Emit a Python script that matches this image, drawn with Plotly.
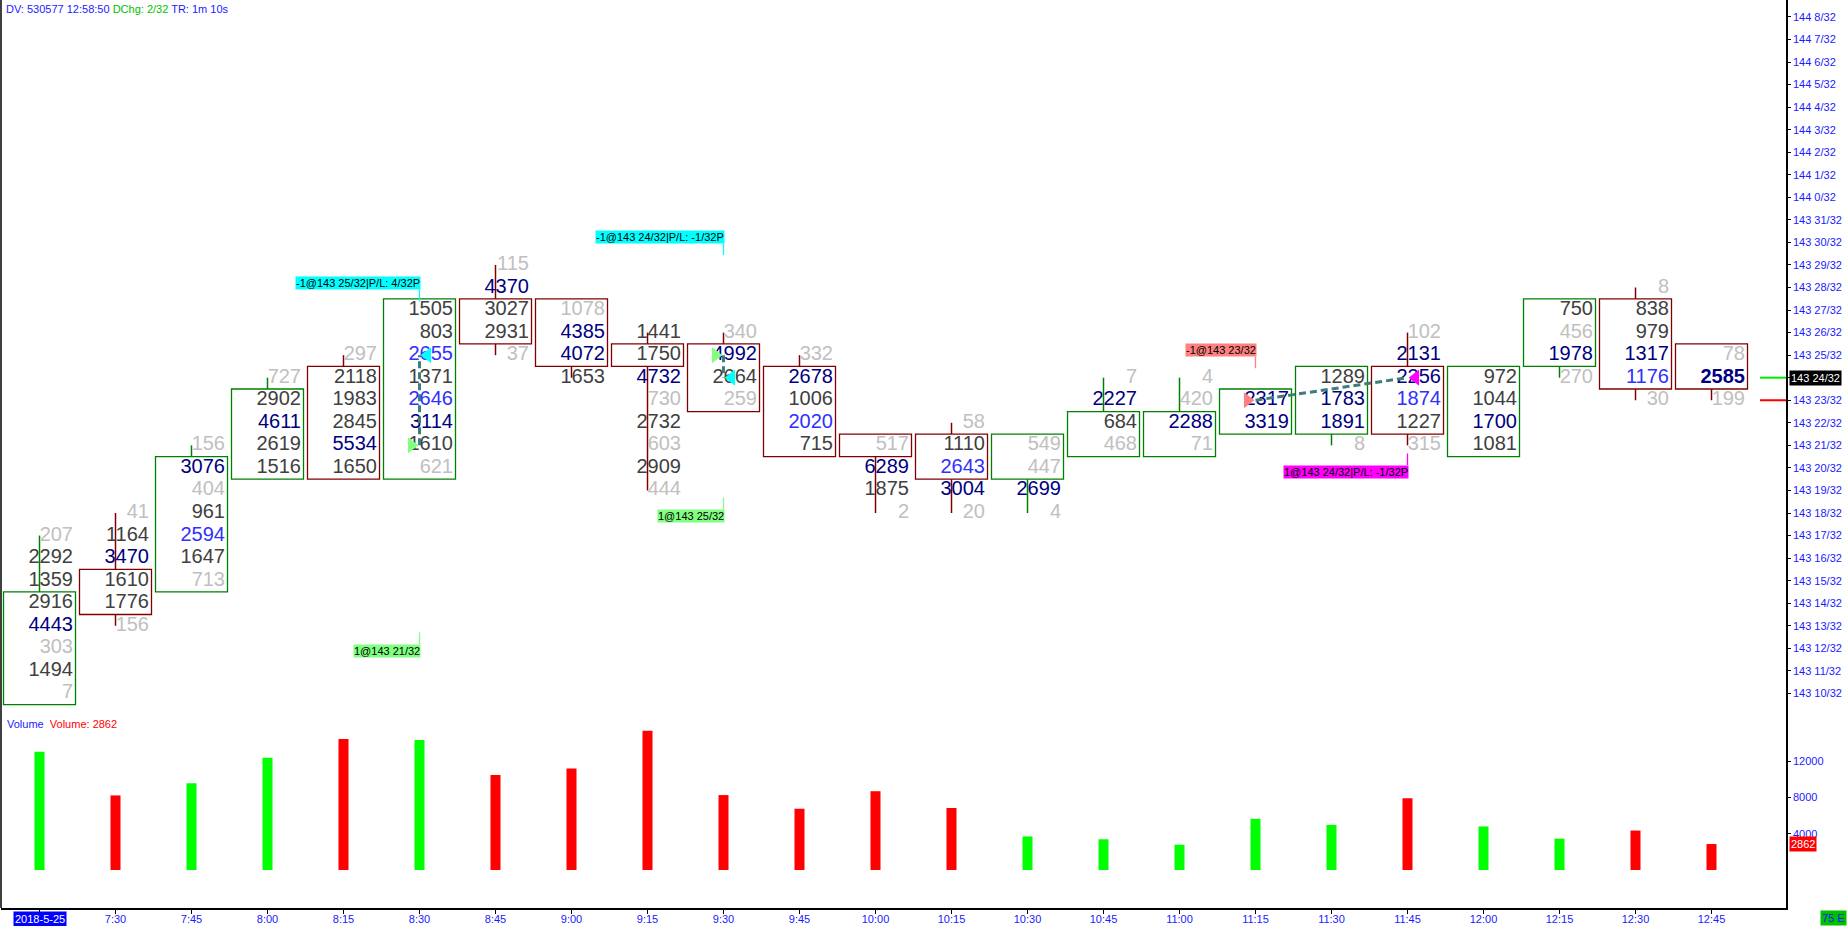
import plotly.graph_objects as go

# ---------------- data ----------------
times = ["2018-5-25", "7:30", "7:45", "8:00", "8:15", "8:30", "8:45", "9:00", "9:15", "9:30",
         "9:45", "10:00", "10:15", "10:30", "10:45", "11:00", "11:15", "11:30", "11:45",
         "12:00", "12:15", "12:30", "12:45"]
# prices in 32nds above 143
opens  = [10, 15, 15, 20, 24, 20, 27, 27, 25, 25, 24, 21, 21, 20, 21, 21, 22, 22, 24, 21, 25, 27, 25]
closes = [14, 14, 20, 23, 20, 27, 26, 25, 25, 23, 21, 21, 20, 21, 22, 22, 23, 24, 22, 24, 27, 24, 24]
highs  = [17, 18, 21, 24, 25, 27, 29, 27, 26, 26, 25, 21, 22, 21, 24, 24, 23, 24, 26, 24, 27, 28, 25]
lows   = [10, 13, 15, 20, 20, 20, 25, 24, 19, 23, 21, 18, 18, 18, 21, 21, 22, 21, 21, 21, 24, 23, 23]
# footprint volume per price level, from high down to low
cells = [
    [207, 2292, 1359, 2916, 4443, 303, 1494, 7],
    [41, 1164, 3470, 1610, 1776, 156],
    [156, 3076, 404, 961, 2594, 1647, 713],
    [727, 2902, 4611, 2619, 1516],
    [297, 2118, 1983, 2845, 5534, 1650],
    [1505, 803, 2655, 1371, 2646, 3114, 1610, 621],
    [115, 4370, 3027, 2931, 37],
    [1078, 4385, 4072, 1653],
    [1441, 1750, 4732, 730, 2732, 603, 2909, 444],
    [340, 4992, 2664, 259],
    [332, 2678, 1006, 2020, 715],
    [517, 6289, 1875, 2],
    [58, 1110, 2643, 3004, 20],
    [549, 447, 2699, 4],
    [7, 2227, 684, 468],
    [4, 420, 2288, 71],
    [2317, 3319],
    [1289, 1783, 1891, 8],
    [102, 2131, 2256, 1874, 1227, 315],
    [972, 1044, 1700, 1081],
    [750, 456, 1978, 270],
    [8, 838, 979, 1317, 1176, 30],
    [78, 2585, 199],
]
# l = light, d = dark, n = navy, b = blue, N = navy bold
tones = [
    "ldddnldl", "ldnddl", "lnldbdl", "ldndd", "ldddnd", "ddbdbndl", "lnddl", "lnnd",
    "ddnldldl", "lndl", "lndbd", "lndl", "ldbnl", "llnl", "lndl", "llnl", "nn", "dnnl",
    "lnnbdl", "ddnd", "dlnl", "lddnbl", "lNl",
]

trade_candle = [5, 5, 9, 9, 16, 18]
trade_price = [21, 25, 25, 24, 23, 24]
trade_symbol = ["triangle-right", "triangle-left", "triangle-right", "triangle-left",
                "triangle-right", "triangle-left"]
trade_color = ["#80ff80", "#00ffff", "#80ff80", "#00ffff", "#ff8080", "#ff00ff"]
trade_links = [(0, 1), (2, 3), (4, 5)]

order_text = ["-1@143 25/32|P/L: 4/32P", "1@143 21/32", "-1@143 24/32|P/L: -1/32P",
              "1@143 25/32", "-1@143 23/32", "1@143 24/32|P/L: -1/32P"]
order_candle = [5, 5, 9, 9, 16, 18]
order_color = ["#00ffff", "#80ff80", "#00ffff", "#80ff80", "#ff8080", "#ff00ff"]
order_above = [True, False, True, False, True, False]

bid_level, ask_level = 23, 24
last_level = 24
header_dv = "DV: 530577 12:58:50"
header_chg = "DChg: 2/32"
header_tr = "TR: 1m 10s"
vol_ticks = [4000, 8000, 12000]
footer_tag = "75 E"

# ---------------- geometry ----------------
W, H = 1848, 926
ML, MR, MT, MB = 1, 62, 0, 18
PW, PH = W - ML - MR, H - MT - MB
SPLIT = 716
DOM = (PH - SPLIT) / PH
SLOT = 76.0
C0 = 39.5 - ML
X_LO, X_HI = -C0 / SLOT, (PW - C0) / SLOT
TICK = 22.55
P_HI = 24 + 377.7 / TICK
P_LO = P_HI - SPLIT / TICK
VPX = 36.3 / 4000
V_HI = (870 - SPLIT) / VPX
V_LO = -(PH - 870) / VPX
ORDER_POS = [28.19, 11.9, 30.25, 17.88, 25.23, 19.83]


def ux(px):
    return px / SLOT


UP, DN = "#008000", "#800000"
TONE = {"l": "#c0c0c0", "d": "#404040", "n": "#000080", "b": "#3030ff", "N": "#000080"}
BLUE = "#1a1aff"
FONT = "Liberation Sans, Arial, sans-serif"

fig = go.Figure()
shapes = []
annotations = []

# wicks
for col, want_up in ((UP, True), (DN, False)):
    xs, ys = [], []
    for i in range(len(times)):
        up = closes[i] > opens[i]
        if up != want_up:
            continue
        top, bot = max(opens[i], closes[i]), min(opens[i], closes[i])
        if highs[i] > top:
            xs += [i, i, None]
            ys += [highs[i], top + 0.5, None]
        if lows[i] < bot:
            xs += [i, i, None]
            ys += [bot - 0.5, lows[i], None]
    fig.add_trace(go.Scatter(x=xs, y=ys, mode="lines", line=dict(color=col, width=1.5),
                             hoverinfo="skip", xaxis="x", yaxis="y"))

# bodies
for i in range(len(times)):
    up = closes[i] > opens[i]
    top, bot = max(opens[i], closes[i]), min(opens[i], closes[i])
    shapes.append(dict(type="rect", xref="x", yref="y", x0=i - ux(36), x1=i + ux(36),
                       y0=bot - 0.5, y1=top + 0.5, line=dict(color=UP if up else DN, width=1.3),
                       fillcolor="rgba(0,0,0,0)", layer="below"))

# footprint numbers
tx, ty, tt, tc = [], [], [], []
for i, col in enumerate(cells):
    for k, v in enumerate(col):
        tone = tones[i][k]
        tx.append(i + ux(33.5))
        ty.append(highs[i] - k)
        tt.append("<b>%d</b>" % v if tone == "N" else str(v))
        tc.append(TONE[tone])
fig.add_trace(go.Scatter(x=tx, y=ty, text=tt, mode="text", textposition="middle left",
                         textfont=dict(family=FONT, size=20, color=tc), hoverinfo="skip",
                         xaxis="x", yaxis="y"))

# trade links (dashed)
for a, b in trade_links:
    fig.add_trace(go.Scatter(x=[trade_candle[a], trade_candle[b]], y=[trade_price[a], trade_price[b]],
                             mode="lines", line=dict(color="#3c7d7d", width=3, dash="7px,4px"),
                             hoverinfo="skip", xaxis="x", yaxis="y"))

# trade markers (tip at candle centre)
MS = 14
rt = MS / 2 * 2 / 3 ** 0.5
for k in range(len(trade_candle)):
    off = -ux(rt) if trade_symbol[k] == "triangle-right" else ux(rt)
    fig.add_trace(go.Scatter(x=[trade_candle[k] + off], y=[trade_price[k]], mode="markers",
                             marker=dict(symbol=trade_symbol[k], size=MS, color=trade_color[k],
                                         line=dict(width=0)),
                             hoverinfo="skip", xaxis="x", yaxis="y"))

# order labels + connectors
for k in range(len(order_text)):
    yl = ORDER_POS[k]
    s = -1 if order_above[k] else 1
    y_edge = yl + s * 0.29
    fig.add_trace(go.Scatter(x=[order_candle[k], order_candle[k]], y=[y_edge, y_edge + s * 0.52],
                             mode="lines", line=dict(color=order_color[k], width=1.3),
                             hoverinfo="skip", xaxis="x", yaxis="y"))
    annotations.append(dict(x=order_candle[k], y=yl, xref="x", yref="y", text=order_text[k],
                            showarrow=False, xanchor="right", yanchor="middle", xshift=1.5,
                            bgcolor=order_color[k], borderpad=0,
                            font=dict(family=FONT, size=11, color="#000000")))

# volume bars
vols = [sum(c) for c in cells]
vcols = ["#00ff00" if closes[i] > opens[i] else "#ff0000" for i in range(len(times))]
fig.add_trace(go.Bar(x=list(range(len(times))), y=vols, marker=dict(color=vcols, line=dict(width=0)),
                     width=ux(10), hoverinfo="skip", xaxis="x", yaxis="y2"))

# bid / ask stubs
for lvl, col in ((ask_level, "#00ee00"), (bid_level, "#ff0000")):
    shapes.append(dict(type="line", xref="paper", yref="y", x0=(1760 - ML) / PW, x1=1,
                       y0=lvl, y1=lvl, line=dict(color=col, width=2)))

# left border
shapes.append(dict(type="line", xref="paper", yref="paper", x0=0, x1=0, y0=0, y1=1,
                   line=dict(color="black", width=1.5)))


def price_label(p):
    return "%d %d/32" % (143 + p // 32, p % 32)


pticks = list(range(10, 41))
ptext = ["" if p == last_level else price_label(p) for p in pticks]
xtext = [""] + times[1:]

annotations += [
    dict(xref="paper", yref="paper", x=0, y=1, xanchor="left", yanchor="top", xshift=3, yshift=-1,
         showarrow=False, font=dict(family=FONT, size=11),
         text="<span style='color:%s'>%s</span> <span style='color:#00c000'>%s</span> "
              "<span style='color:%s'>%s</span>" % (BLUE, header_dv, header_chg, BLUE, header_tr)),
    dict(xref="paper", yref="paper", x=0, y=(PH - 724) / PH, xanchor="left", yanchor="middle",
         xshift=4, showarrow=False, font=dict(family=FONT, size=11),
         text="<span style='color:%s'>Volume</span>  <span style='color:#ff0000'>Volume: %d</span>"
              % (BLUE, vols[-1])),
    dict(xref="paper", yref="y", x=1, y=last_level, xanchor="left", yanchor="middle", xshift=3,
         showarrow=False, bgcolor="#000000", borderpad=1, text=price_label(last_level),
         font=dict(family=FONT, size=11, color="#ffffff")),
    dict(xref="paper", yref="y2", x=1, y=vols[-1], xanchor="left", yanchor="middle", xshift=3,
         showarrow=False, bgcolor="#ff0000", borderpad=1, text=str(vols[-1]),
         font=dict(family=FONT, size=11, color="#ffffff")),
    dict(xref="paper", yref="paper", x=(1847 - ML) / PW, y=-(918 - PH) / PH, xanchor="right",
         yanchor="middle", showarrow=False, bgcolor="#00c000", borderpad=1, text=footer_tag,
         font=dict(family=FONT, size=11, color=BLUE)),
    dict(xref="x", yref="paper", x=0, y=-(918.5 - PH) / PH, xanchor="center", yanchor="middle",
         showarrow=False, bgcolor="#0000ff", borderpad=1, text=times[0],
         font=dict(family=FONT, size=11, color="#ffffff")),
]

fig.update_layout(
    width=W, height=H,
    margin=dict(l=ML, r=MR, t=MT, b=MB, autoexpand=False),
    paper_bgcolor="white", plot_bgcolor="white", showlegend=False,
    font=dict(family=FONT, size=11, color=BLUE),
    xaxis=dict(range=[X_LO, X_HI], anchor="y2", tickvals=list(range(len(times))), ticktext=xtext,
               showline=True, linecolor="black", linewidth=1.5, ticks="outside", ticklen=4,
               tickcolor="black", showgrid=False, zeroline=False, ticklabelstandoff=-4,
               tickfont=dict(family=FONT, size=11, color=BLUE)),
    yaxis=dict(domain=[DOM, 1], range=[P_LO, P_HI], side="right", anchor="x", showline=True,
               linecolor="black", linewidth=1.5, ticks="outside", ticklen=3, tickcolor="black",
               tickvals=pticks, ticktext=ptext, showgrid=False,
               zeroline=False, tickfont=dict(family=FONT, size=11, color=BLUE)),
    yaxis2=dict(domain=[0, DOM], range=[V_LO, V_HI], side="right", anchor="x", showline=True,
                linecolor="black", linewidth=1.5, ticks="outside", ticklen=3, tickcolor="black",
                tickvals=vol_ticks, ticktext=[str(v) for v in vol_ticks], showgrid=False,
                zeroline=False, tickfont=dict(family=FONT, size=11, color=BLUE)),
    shapes=shapes,
    annotations=annotations,
)

fig.write_html("out.html", config={"displayModeBar": False},
               post_script="document.body.style.margin='0px';document.body.style.overflow='hidden';")
